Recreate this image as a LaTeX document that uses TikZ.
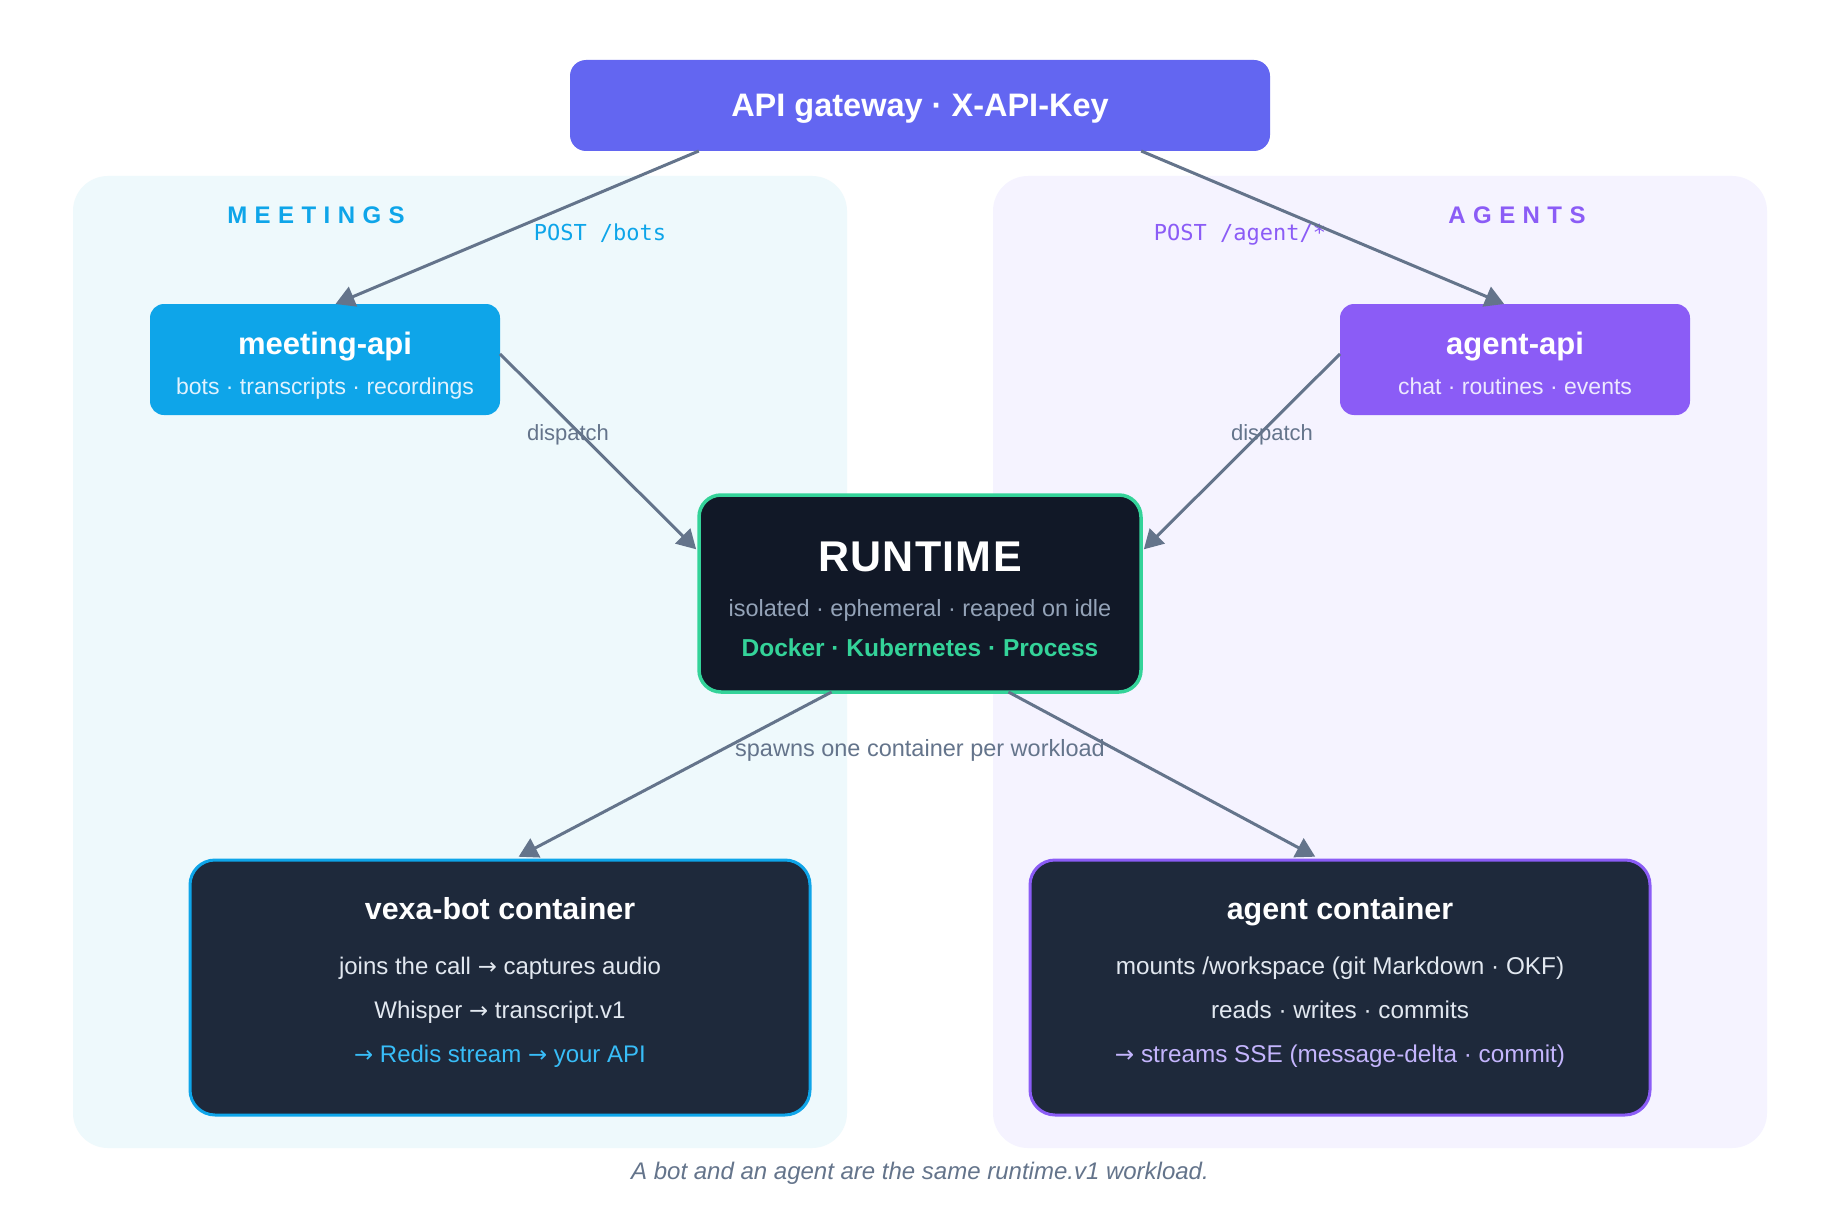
\documentclass[tikz,border=0pt]{standalone}
\usepackage{fontspec}
\setmainfont{Liberation Sans}
\setmonofont{DejaVu Sans Mono}
\newfontfamily\arrfont{DejaVu Sans}[Scale=0.95]
\usetikzlibrary{arrows.meta,calc}
\definecolor{gwc}{HTML}{6366F1}
\definecolor{meetc}{HTML}{0EA5E9}
\definecolor{agentc}{HTML}{8B5CF6}
\definecolor{meetbg}{HTML}{EEF9FC}
\definecolor{agentbg}{HTML}{F5F3FF}
\definecolor{rtfill}{HTML}{111827}
\definecolor{rtborder}{HTML}{34D399}
\definecolor{ctfill}{HTML}{1E293B}
\definecolor{arrowc}{HTML}{64748B}
\definecolor{bodyc}{HTML}{E2E8F0}
\definecolor{rtgray}{HTML}{94A3B8}
\definecolor{meetlite}{HTML}{38BDF8}
\definecolor{agentlite}{HTML}{C4B5FD}
\definecolor{meetsub}{HTML}{E0F2FE}
\definecolor{agentsub}{HTML}{EDE9FE}
\newcommand{\fsz}[1]{\fontsize{#1}{#1}\selectfont}
\newcommand{\ar}{{\arrfont →}}
\tikzset{
  box/.style={inner sep=0pt, outer sep=0pt},
  panelbox/.style={box, rounded corners=35pt},
  lbl/.style={anchor=mid, inner sep=0pt, outer sep=0pt},
  arr/.style={draw=arrowc, line width=3pt, -{Triangle[length=19pt,width=21pt]}},
}
\begin{document}
\begin{tikzpicture}[x=1pt,y=-1pt]
\useasboundingbox (0,0) rectangle (1840,1220);
\fill[white] (0,0) rectangle (1840,1220);

% panels
\node[panelbox, fill=meetbg, minimum width=774pt, minimum height=972pt] (mpanel) at (460,662) {};
\node[panelbox, fill=agentbg, minimum width=774pt, minimum height=972pt] (apanel) at (1380,662) {};
\node[lbl, text=meetc] (mtitle) at (316,221) {\fsz{24}\bfseries\addfontfeature{LetterSpace=31}MEETINGS};
\node[lbl, text=agentc] (atitle) at (1517,221) {\fsz{24}\bfseries\addfontfeature{LetterSpace=31}AGENTS};

% gateway
\node[box, fill=gwc, rounded corners=16pt, minimum width=700pt, minimum height=91pt] (gw) at (920,105.5) {};
\node[lbl, text=white] (gwt) at (920,113.5) {\fsz{32.5}\bfseries API gateway · X-API-Key};

% meeting-api
\node[box, fill=meetc, rounded corners=14pt, minimum width=350pt, minimum height=111pt] (mapi) at (325,359.5) {};
\node[lbl, text=white] (mapit) at (325,352) {\fsz{31}\bfseries meeting-api};
\node[lbl, text=meetsub] (mapis) at (325,392) {\fsz{23}bots · transcripts · recordings};

% agent-api
\node[box, fill=agentc, rounded corners=14pt, minimum width=350pt, minimum height=111pt] (aapi) at (1515,359.5) {};
\node[lbl, text=white] (aapit) at (1515,352) {\fsz{31}\bfseries agent-api};
\node[lbl, text=agentsub] (aapis) at (1515,392) {\fsz{23}chat · routines · events};

% runtime
\node[box, fill=rtfill, draw=rtborder, line width=3.5pt, rounded corners=22pt, minimum width=442pt, minimum height=197pt] (rt) at (920,593.5) {};
\node[lbl, text=white] (rtt) at (920,569) {\fsz{43}\bfseries\addfontfeature{LetterSpace=3}RUNTIME};
\node[lbl, text=rtgray] (rt2) at (920,614) {\fsz{23.5}isolated · ephemeral · reaped on idle};
\node[lbl, text=rtborder] (rt3) at (920,654) {\fsz{24.5}\bfseries Docker · Kubernetes · Process};

% containers
\node[box, fill=ctfill, draw=meetc, line width=3pt, rounded corners=25pt, minimum width=620pt, minimum height=255pt] (vb) at (500,987.5) {};
\node[lbl, text=white] (vbt) at (500,917) {\fsz{30.4}\bfseries vexa-bot container};
\node[lbl, text=bodyc] (vb1) at (500,972) {\fsz{24}joins the call \ar{} captures audio};
\node[lbl, text=bodyc] (vb2) at (500,1016) {\fsz{24}Whisper \ar{} transcript.v1};
\node[lbl, text=meetlite] (vb3) at (500,1060) {\fsz{24}\ar{} Redis stream \ar{} your API};

\node[box, fill=ctfill, draw=agentc, line width=3pt, rounded corners=25pt, minimum width=620pt, minimum height=255pt] (ac) at (1340,987.5) {};
\node[lbl, text=white] (act) at (1340,917) {\fsz{30.4}\bfseries agent container};
\node[lbl, text=bodyc] (ac1) at (1340,972) {\fsz{24.3}mounts /workspace (git Markdown · OKF)};
\node[lbl, text=bodyc] (ac2) at (1340,1016) {\fsz{24.3}reads · writes · commits};
\node[lbl, text=agentlite] (ac3) at (1340,1060) {\fsz{24.3}\ar{} streams SSE (message-delta · commit)};

% connector labels
\node[lbl, text=meetc] (l1) at (600,238) {\fsz{22}\ttfamily POST /bots};
\node[lbl, text=agentc] (l2) at (1240,238) {\fsz{22}\ttfamily POST /agent/*};
\node[lbl, text=arrowc] (l3) at (568,438) {\fsz{22}dispatch};
\node[lbl, text=arrowc] (l4) at (1272,438) {\fsz{22}dispatch};
\node[lbl, text=arrowc] (l5) at (920,754) {\fsz{23.5}spawns one container per workload};

% connectors
\draw[arr] ($(gw.south west)!0.184!(gw.south east)$) -- ($(mapi.north west)!0.53!(mapi.north east)$);
\draw[arr] ($(gw.south west)!0.816!(gw.south east)$) -- ($(aapi.north west)!0.469!(aapi.north east)$);
\draw[arr, shorten >=4pt] ($(mapi.north east)!0.45!(mapi.south east)$) -- ($(rt.north west)!0.29!(rt.south west)$);
\draw[arr, shorten >=4pt] ($(aapi.north west)!0.45!(aapi.south west)$) -- ($(rt.north east)!0.29!(rt.south east)$);
\draw[arr, shorten >=7pt] ($(rt.south west)!0.30!(rt.south east)$) -- ($(vb.north west)!0.52!(vb.north east)$);
\draw[arr, shorten >=7pt] ($(rt.south west)!0.70!(rt.south east)$) -- ($(ac.north west)!0.47!(ac.north east)$);

% caption
\node[lbl, text=arrowc] (cap) at (920,1177) {\fsz{24}\itshape A bot and an agent are the same runtime.v1 workload.};
\end{tikzpicture}
\end{document}
